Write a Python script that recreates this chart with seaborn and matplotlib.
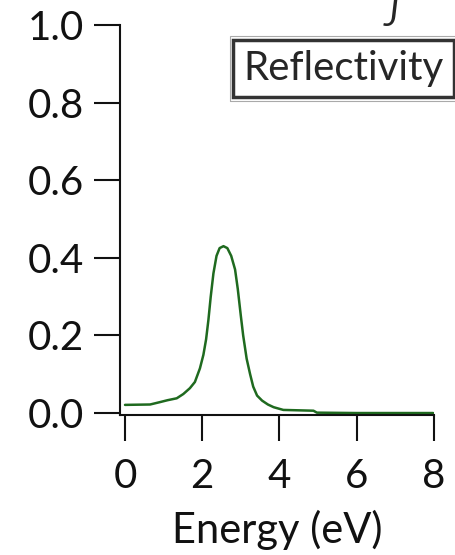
import numpy as np
import pandas as pd
import matplotlib
matplotlib.use("Agg")
import matplotlib.pyplot as plt
import matplotlib.patches as mpatches
import seaborn as sns

# values
energy = [0.0, 0.65, 0.9, 1.1, 1.34, 1.51, 1.68, 1.81, 1.94, 2.03, 2.10, 2.16, 2.22,
          2.29, 2.37, 2.45, 2.55, 2.65, 2.75, 2.85, 2.92, 3.00, 3.06, 3.15, 3.24,
          3.32, 3.42, 3.55, 3.70, 3.85, 4.10, 4.88, 4.97, 6.0, 7.98]
reflectivity = [0.021, 0.022, 0.028, 0.033, 0.038, 0.049, 0.064, 0.080, 0.115, 0.150, 0.190, 0.240, 0.300,
                0.360, 0.405, 0.425, 0.430, 0.425, 0.405, 0.370, 0.320, 0.250, 0.200, 0.140, 0.100,
                0.068, 0.045, 0.032, 0.022, 0.015, 0.008, 0.006, 0.001, 0.0, 0.0]
x_ticks = [0, 2, 4, 6, 8]
y_ticks = [0.0, 0.2, 0.4, 0.6, 0.8, 1.0]

df = pd.DataFrame({"Energy": energy, "Reflectivity": reflectivity})

sns.set_style("ticks")
plt.rcParams["font.family"] = ["Lato", "DejaVu Sans"]

fig = plt.figure(figsize=(4.55, 5.55), dpi=100)
ax = fig.add_axes([0.2637, 0.2523, 0.690, 0.7027])

sns.lineplot(data=df, x="Energy", y="Reflectivity", color="#1f6a1f", linewidth=1.8, ax=ax, label="Reflectivity")

ax.set_xlim(-0.13, 8.0)
ax.set_ylim(-0.005, 1.0)
ax.set_xticks(x_ticks)
ax.set_yticks(y_ticks)
ax.set_yticklabels([f"{v:.1f}" for v in y_ticks])
ax.tick_params(axis="both", direction="out", length=19, width=1.5, labelsize=29, colors="#111111")
ax.tick_params(axis="y", pad=7)
ax.tick_params(axis="x", pad=12)
ax.set_xlabel("Energy (eV)", fontsize=30, labelpad=11, color="#111111")
ax.set_ylabel("")
for side in ["top", "right"]:
    ax.spines[side].set_visible(False)
for side in ["left", "bottom"]:
    ax.spines[side].set_linewidth(1.5)
    ax.spines[side].set_color("#111111")

leg = ax.legend(loc="upper right", bbox_to_anchor=(0.997, 0.928), bbox_transform=fig.transFigure,
                handlelength=0, handletextpad=0, fontsize=29, fancybox=False,
                borderpad=0.25, borderaxespad=0)
for h in leg.legend_handles:
    h.set_visible(False)
leg.get_frame().set_edgecolor("black")
leg.get_frame().set_linewidth(2.5)

# thin grey outer border around the legend box
fig.canvas.draw()
bb = leg.get_frame().get_window_extent().transformed(fig.transFigure.inverted())
dx, dy = 3.5 / 455, 3.5 / 555
fig.add_artist(mpatches.Rectangle((bb.x0 - dx, bb.y0 - dy), bb.width + 2 * dx, bb.height + 2 * dy,
                                  transform=fig.transFigure, fill=False, edgecolor="#aaaaaa", linewidth=0.8))

fig.text(0.843, 0.942, "J", fontsize=26, style="italic", va="bottom")

fig.savefig("out.png", dpi=100)
